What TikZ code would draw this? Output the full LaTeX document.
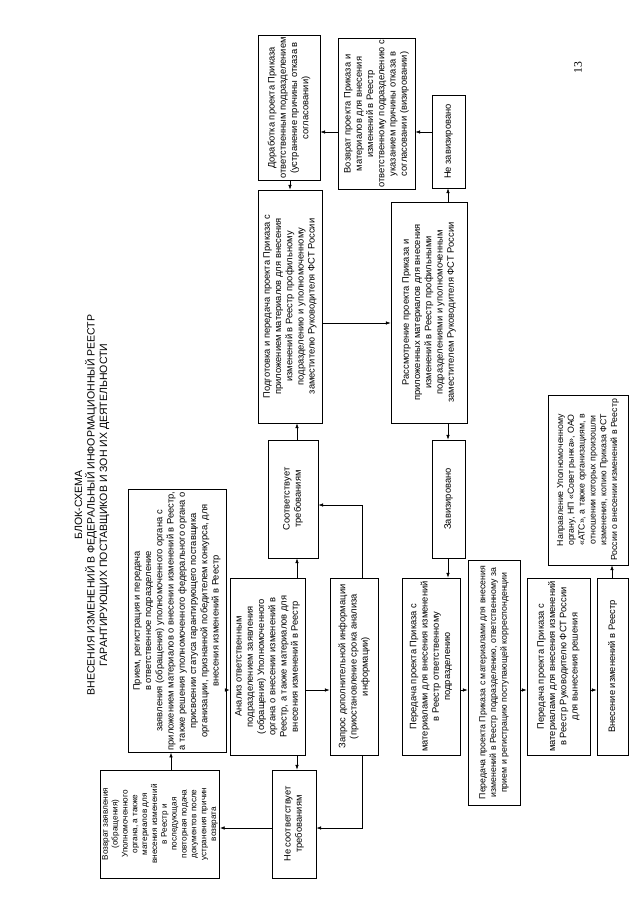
\documentclass[tikz,border=0pt]{standalone}
\usepackage{fontspec}
\setmainfont{Liberation Sans}
\newfontfamily\numfont{Liberation Serif}
\usetikzlibrary{arrows.meta}
\newlength\px
\setlength\px{0.3mm}
\begin{document}
\begin{tikzpicture}[x=0.3mm,y=-0.3mm,
  box/.style={draw,line width=0.7pt,rotate=90,align=center,inner sep=1.5pt,
    font=\fontsize{8}{9.6}\selectfont},
  small/.style={font=\fontsize{7}{8.4}\selectfont},
  mid/.style={font=\fontsize{7.5}{9.2}\selectfont},
  bsz/.style 2 args={minimum width=#1\px,minimum height=#2\px},
  arr/.style={-{Latex[length=4pt,width=3pt]},line width=0.55pt},
  ttl/.style={rotate=90,align=center,font=\fontsize{9}{10.7}\selectfont}]
\fill[white] (0,0) rectangle (640,905);
\useasboundingbox (0,0) rectangle (640,905);

\node[ttl] (title) at (92,505) {БЛОК-СХЕМА\\ВНЕСЕНИЯ ИЗМЕНЕНИЙ В ФЕДЕРАЛЬНЫЙ ИНФОРМАЦИОННЫЙ РЕЕСТР\\ГАРАНТИРУЮЩИХ ПОСТАВЩИКОВ И ЗОН ИХ ДЕЯТЕЛЬНОСТИ};
\node[rotate=90,font=\numfont\fontsize{10}{12}\selectfont] (pg) at (578,68) {13};

% row 1
\node[box,bsz={140}{62}] (H) at (289,108) {Доработка проекта Приказа\\ответственным подразделением\\(устранение причины отказа в\\согласовании)};
\node[box,bsz={148}{77}] (I) at (376.5,114) {Возврат проекта Приказа и\\материалов для внесения\\изменений в Реестр\\ответственному подразделению с\\указанием причины отказа в\\согласовании (визировании)};
\node[box,bsz={93}{33}] (J) at (448.5,141.5) {Не завизировано};
% row 2
\node[box,bsz={233}{64}] (G) at (290,306.5) {Подготовка и передача проекта Приказа с\\приложением материалов для внесения\\изменений в Реестр профильному\\подразделению и уполномоченному\\заместителю Руководителя ФСТ России};
\node[box,bsz={221}{76}] (K) at (429,312.5) {Рассмотрение проекта Приказа и\\приложенных материалов для внесения\\изменений в Реестр профильными\\подразделениями и уполномоченным\\заместителем Руководителя ФСТ России};
% row 3
\node[box,bsz={118}{50}] (E) at (293,499) {Соответствует\\требованиям};
\node[box,bsz={118}{33}] (L) at (448.5,499) {Завизировано};
\node[box,mid,bsz={170}{80}] (Q) at (588,480) {Направление Уполномоченному\\органу, НП «Совет рынка», ОАО\\«АТС», а также организациям, в\\отношении которых произошли\\изменения, копию Приказа ФСТ\\России о внесении изменений в Реестр};
% row 4
\node[box,bsz={262}{98}] (A) at (177,621) {Прием, регистрация и передача\\в ответственное подразделение\\заявления (обращения) уполномоченного органа с\\приложением материалов о внесении изменений в Реестр,\\а также решения уполномоченного федерального органа о\\присвоении статуса гарантирующего поставщика\\организации, признанной победителем конкурса, для\\внесения изменений в Реестр};
\node[box,bsz={177}{75}] (C) at (267.5,666.5) {Анализ ответственным\\подразделением заявления\\(обращения) Уполномоченного\\органа о внесении изменений в\\Реестр, а также материалов для\\внесения изменений в Реестр};
\node[box,bsz={177}{48}] (F) at (354,666.5) {Запрос дополнительной информации\\(приостановление срока анализа\\информации)};
\node[box,bsz={177}{58}] (M) at (431,666.5) {Передача проекта Приказа с\\материалами для внесения изменений\\в Реестр ответственному\\подразделению};
\node[box,mid,bsz={245}{52}] (N) at (494,682.5) {Передача проекта Приказа с материалами для внесения\\изменений в Реестр подразделению, ответственному за\\прием и регистрацию поступающей корреспонденции};
\node[box,bsz={177}{63}] (O) at (558.5,666.5) {Передача проекта Приказа с\\материалами для внесения изменений\\в Реестр Руководителю ФСТ России\\для вынесения решения};
\node[box,bsz={177}{31}] (P) at (612.5,666.5) {Внесение изменений в Реестр};
% row 5
\node[box,small,bsz={108}{118}] (B) at (160,824) {Возврат заявления\\(обращения)\\Уполномоченного\\органа, а также\\материалов для\\внесения изменений\\в Реестр и\\последующая\\повторная подача\\документов после\\устранения причин\\возврата};
\node[box,bsz={108}{44}] (D) at (294,824) {Не соответствует\\требованиям};

\coordinate (yc) at (0,690);
\coordinate (xe) at (297,0);
\coordinate (xf) at (362,0);
\coordinate (yfe) at (0,505);
\coordinate (yfd) at (0,828);
\coordinate (xb) at (171,0);
\coordinate (ygk) at (0,323);
\coordinate (xk) at (448,0);
\coordinate (yji) at (0,132);
\coordinate (xhg) at (290,0);
\coordinate (xp) at (612,0);

\draw[arr] (A.south |- yc) -- (C.north |- yc);
\draw[arr] (C.south |- yc) -- (F.north |- yc);
\draw[arr] (M.south |- yc) -- (N.north |- yc);
\draw[arr] (N.south |- yc) -- (O.north |- yc);
\draw[arr] (O.south |- yc) -- (P.north |- yc);
\draw[arr] (C.east -| xe) -- (E.west -| xe);
\draw[arr] (E.east -| xe) -- (G.west -| xe);
\draw[arr] (F.east -| xf) |- (E.south |- yfe);
\draw[arr] (F.west -| xf) |- (D.south |- yfd);
\draw[arr] (C.west -| xe) -- (D.east -| xe);
\draw[arr] (D.north |- yfd) -- (B.south |- yfd);
\draw[arr] (B.east -| xb) -- (A.west -| xb);
\draw[arr] (G.south |- ygk) -- (K.north |- ygk);
\draw[arr] (K.west -| xk) -- (L.east -| xk);
\draw[arr] (K.east -| xk) -- (J.west -| xk);
\draw[arr] (J.north |- yji) -- (I.south |- yji);
\draw[arr] (I.north |- yji) -- (H.south |- yji);
\draw[arr] (H.west -| xhg) -- (G.east -| xhg);
\draw[arr] (L.west -| xk) -- (M.east -| xk);
\draw[arr] (P.east -| xp) -- (Q.west -| xp);
\end{tikzpicture}
\end{document}
